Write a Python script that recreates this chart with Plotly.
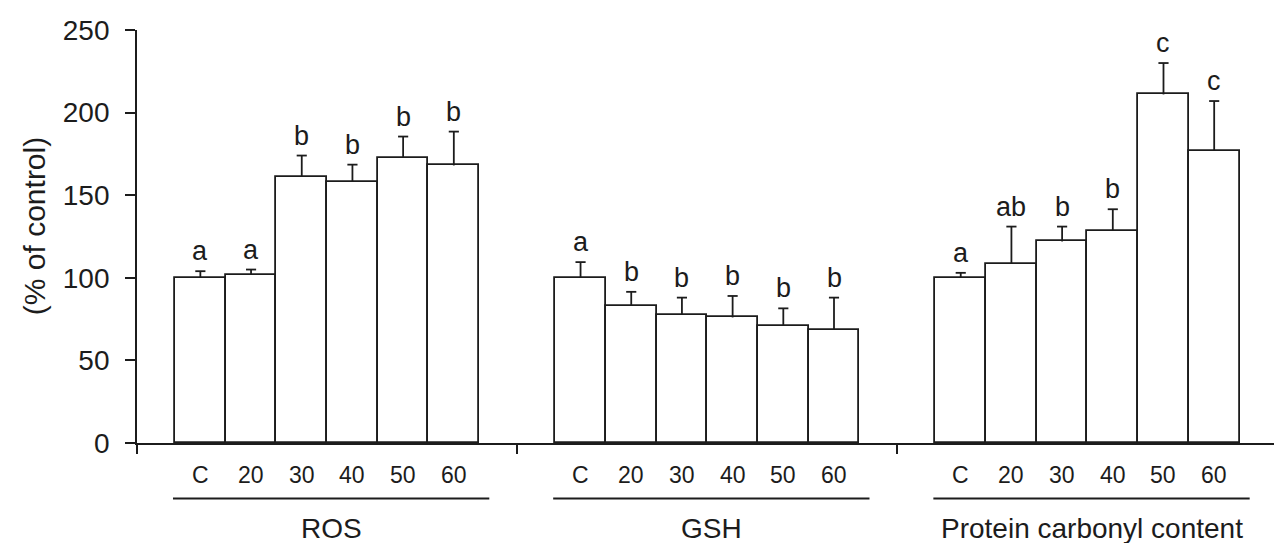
import plotly.graph_objects as go

# Dose labels shared by all three assays
doses = ["C", "20", "30", "40", "50", "60"]
groups = ["ROS", "GSH", "Protein carbonyl content"]

# Values expressed as % of control (mean and upper SD)
ros_mean = [100, 102, 161, 158, 172.5, 168]
ros_err = [4, 3, 13, 10.5, 13, 20.5]
ros_letters = ["a", "a", "b", "b", "b", "b"]

gsh_mean = [100, 83, 77.5, 76, 71, 68.5]
gsh_err = [9.5, 8.5, 10.5, 13, 10.5, 19.5]
gsh_letters = ["a", "b", "b", "b", "b", "b"]

pcc_mean = [100, 108.5, 122, 128.5, 211, 177]
pcc_err = [3, 22.5, 9, 13, 19, 30]
pcc_letters = ["a", "ab", "b", "b", "c", "c"]

y_ticks = [0, 50, 100, 150, 200, 250]

means = [ros_mean, gsh_mean, pcc_mean]
errs = [ros_err, gsh_err, pcc_err]
letters = [ros_letters, gsh_letters, pcc_letters]

# Layout geometry (x in bar-width units)
W, H = 1274, 543
M_L, M_R, M_T, M_B = 137, 0, 30, 100
LEAD = 0.75          # space before first bar of each group
GROUP_STEP = 7.5     # six bars plus a 1.5 gap
X_MAX = 22.43
PLOT_H = H - M_T - M_B
CAP_HALF = 0.1       # half-width of error-bar caps, in bar widths

INK = "#1c1c1c"
FONT = "Liberation Sans, Arial, sans-serif"
LW = 1.8


def px_to_paper_y(px_below_axis):
    return -px_below_axis / PLOT_H


fig = go.Figure()
annotations = []
shapes = []

for g, name in enumerate(groups):
    start = LEAD + g * GROUP_STEP
    xs = [start + 0.5 + i for i in range(len(doses))]
    fig.add_trace(go.Bar(
        x=xs, y=means[g], width=1,
        marker=dict(color="white", line=dict(color=INK, width=LW)),
        showlegend=False, hoverinfo="skip",
    ))
    # upward-only error bars (stem + cap)
    for x, m, e in zip(xs, means[g], errs[g]):
        shapes.append(dict(type="line", xref="x", yref="y",
                           x0=x, x1=x, y0=m, y1=m + e,
                           line=dict(color=INK, width=LW)))
        shapes.append(dict(type="line", xref="x", yref="y",
                           x0=x - CAP_HALF, x1=x + CAP_HALF, y0=m + e, y1=m + e,
                           line=dict(color=INK, width=LW)))
    # significance letters above the error bars
    for x, m, e, lab in zip(xs, means[g], errs[g], letters[g]):
        annotations.append(dict(
            x=x, y=m + e, xref="x", yref="y", text=lab, showarrow=False,
            yanchor="bottom", yshift=3,
            font=dict(family=FONT, size=27, color=INK),
        ))
    # dose labels under each bar
    for x, d in zip(xs, doses):
        annotations.append(dict(
            x=x, y=px_to_paper_y(32), xref="x", yref="paper", text=d,
            showarrow=False, yanchor="middle",
            font=dict(family=FONT, size=23, color=INK),
        ))
    # underline spanning the group and its name
    x0 = start - 0.04
    x1 = start + len(doses) + 0.2
    shapes.append(dict(
        type="line", xref="x", yref="paper", x0=x0, x1=x1,
        y0=px_to_paper_y(55.5), y1=px_to_paper_y(55.5),
        line=dict(color=INK, width=LW),
    ))
    annotations.append(dict(
        x=(x0 + x1) / 2, y=px_to_paper_y(85), xref="x", yref="paper",
        text=name, showarrow=False, yanchor="middle",
        font=dict(family=FONT, size=28, color=INK),
    ))

# y-axis title
annotations.append(dict(
    x=-103 / (W - M_L - M_R), y=0.525, xref="paper", yref="paper",
    text="(% of control)", showarrow=False, textangle=-90,
    xanchor="center", yanchor="middle",
    font=dict(family=FONT, size=30, color=INK),
))

fig.update_layout(
    width=W, height=H,
    margin=dict(l=M_L, r=M_R, t=M_T, b=M_B),
    paper_bgcolor="white", plot_bgcolor="white",
    barmode="overlay", bargap=0,
    annotations=annotations, shapes=shapes,
    xaxis=dict(
        range=[0, X_MAX], showgrid=False, zeroline=False,
        showline=True, linecolor=INK, linewidth=LW,
        tickvals=[0, GROUP_STEP, 2 * GROUP_STEP], ticktext=["", "", ""],
        ticks="outside", ticklen=9, tickwidth=LW, tickcolor=INK,
    ),
    yaxis=dict(
        range=[0, 250], showgrid=False, zeroline=False,
        showline=True, linecolor=INK, linewidth=LW,
        tickvals=y_ticks, ticktext=[str(v) for v in y_ticks],
        ticks="outside", ticklen=10, tickwidth=LW, tickcolor=INK,
        ticklabelstandoff=10,
        tickfont=dict(family=FONT, size=28, color=INK),
    ),
)

fig.write_html("out.html")
